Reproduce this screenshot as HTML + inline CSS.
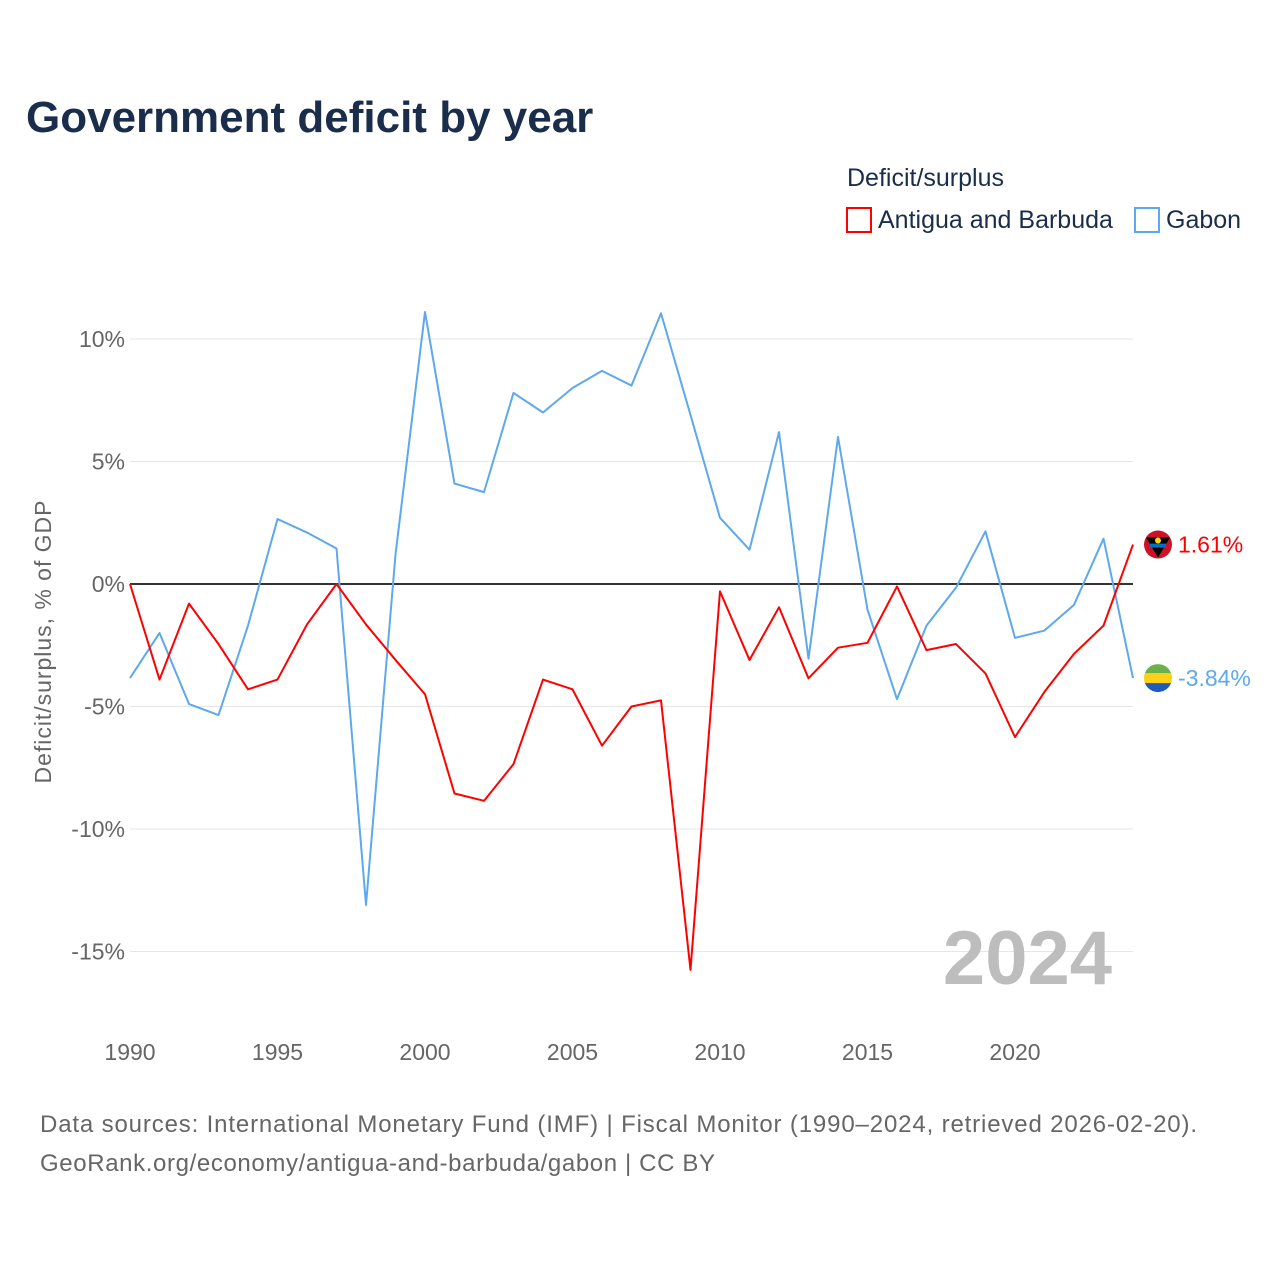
<!DOCTYPE html>
<html><head><meta charset="utf-8"><style>
body{margin:0;background:#fff;font-family:"Liberation Sans",sans-serif;}
svg text{font-family:"Liberation Sans",sans-serif;}
</style></head><body>
<svg id="chart" width="1280" height="1280" viewBox="0 0 1280 1280" xmlns="http://www.w3.org/2000/svg">
<rect width="1280" height="1280" fill="#fff"/>
<text x="26" y="132" font-size="44" font-weight="bold" fill="#1a2e4c">Government deficit by year</text>
<text x="847" y="186" font-size="25" fill="#1a2e4c">Deficit/surplus</text>
<g><rect x="847" y="208" width="24" height="24" fill="none" stroke="#ff0000" stroke-width="2"/><text x="878" y="228" font-size="25" fill="#1a2e4c">Antigua and Barbuda</text></g>
<g><rect x="1135" y="208" width="24" height="24" fill="none" stroke="#5ea8ec" stroke-width="2"/><text x="1166" y="228" font-size="25" fill="#1a2e4c">Gabon</text></g>
<text transform="translate(51,642) rotate(-90)" text-anchor="middle" font-size="23" textLength="283" fill="#666">Deficit/surplus, % of GDP</text>
<g id="grid"></g><g id="lines"></g>
<text x="1112" y="984" text-anchor="end" font-size="76" font-weight="bold" fill="#bdbdbd">2024</text>
<text x="40" y="1132" font-size="24" textLength="1157" fill="#666">Data sources: International Monetary Fund (IMF) | Fiscal Monitor (1990–2024, retrieved 2026-02-20).</text>
<text x="40" y="1171" font-size="24" textLength="675" fill="#666">GeoRank.org/economy/antigua-and-barbuda/gabon | CC BY</text>
</svg>
<script>
const years=[];for(let y=1990;y<=2024;y++)years.push(y);
const antigua=[0,-3.9,-0.8,-2.45,-4.3,-3.9,-1.65,0,-1.65,-3.1,-4.5,-8.55,-8.85,-7.35,-3.9,-4.3,-6.6,-5.0,-4.75,-15.75,-0.3,-3.1,-0.95,-3.85,-2.6,-2.4,-0.1,-2.7,-2.45,-3.65,-6.25,-4.4,-2.85,-1.7,1.61];
const gabon=[-3.84,-2.0,-4.9,-5.35,-1.7,2.65,2.1,1.45,-13.1,1.2,11.1,4.1,3.75,7.8,7.0,8.0,8.7,8.1,11.05,6.9,2.7,1.4,6.2,-3.05,6.0,-1.05,-4.7,-1.7,-0.15,2.15,-2.2,-1.9,-0.85,1.85,-3.84];
const yTicks=[10,5,0,-5,-10,-15];
const xTicks=[1990,1995,2000,2005,2010,2015,2020];
const NS="http://www.w3.org/2000/svg";
const xs=y=>130+(y-1990)*29.5;
const ys=v=>584-v*24.5;
function mk(t,a,p){const e=document.createElementNS(NS,t);for(const k in a)e.setAttribute(k,a[k]);p.appendChild(e);return e;}
const grid=document.getElementById('grid'),lines=document.getElementById('lines');
yTicks.forEach(v=>{
 const l=mk('line',{x1:130,x2:1133,y1:ys(v),y2:ys(v),stroke:v===0?'#333':'#e6e6e6','stroke-width':v===0?2:1},grid);
 
 
 const t=mk('text',{x:125,y:ys(v)+8,'text-anchor':'end','font-size':23,fill:'#666'},grid);
 t.textContent=v+'%';
 
 
});
xTicks.forEach(y=>{
 const t=mk('text',{x:xs(y),y:1060,'text-anchor':'middle','font-size':23,fill:'#666'},grid);
 t.textContent=y;
 
 
});
function series(vals,color,name){
 const p=mk('polyline',{points:vals.map((v,i)=>xs(years[i])+','+ys(v)).join(' '),fill:'none',stroke:color,'stroke-width':2,'stroke-linejoin':'round'},lines);
 
 
}
series(gabon,'#5ea8ec','gabon-line');
series(antigua,'#ff0000','antigua-line');
const la=antigua[antigua.length-1],lg=gabon[gabon.length-1];
const xe=xs(2024);
const fa=mk('g',{},lines);


mk('circle',{cx:xe+25,cy:ys(la),r:14,fill:'#ce1126'},fa);
mk('path',{d:`M${xe+13},${ys(la)-7} L${xe+37},${ys(la)-7} L${xe+25},${ys(la)+13} Z`,fill:'#000'},fa);
mk('rect',{x:xe+17,y:ys(la)-1,width:16,height:4,fill:'#0072c6'},fa);
mk('circle',{cx:xe+25,cy:ys(la)-4,r:3,fill:'#fcd116'},fa);
const ta=mk('text',{x:xe+45,y:ys(la)+8,'font-size':23,fill:'#ff0000'},lines);
ta.textContent=la.toFixed(2)+'%';


const fg=mk('g',{},lines);


const cy=ys(lg);
mk('clipPath',{id:'gc'},fg);
mk('circle',{cx:xe+25,cy:cy,r:14},fg.querySelector('clipPath'));
const gg=mk('g',{'clip-path':'url(#gc)'},fg);
mk('rect',{x:xe+11,y:cy-14,width:28,height:10,fill:'#6ab04c'},gg);
mk('rect',{x:xe+11,y:cy-5,width:28,height:10,fill:'#fcd116'},gg);
mk('rect',{x:xe+11,y:cy+5,width:28,height:10,fill:'#1f5bbf'},gg);
const tg=mk('text',{x:xe+45,y:cy+8,'font-size':23,fill:'#5ea8ec'},lines);
tg.textContent=lg.toFixed(2)+'%';


</script>
</body></html>
